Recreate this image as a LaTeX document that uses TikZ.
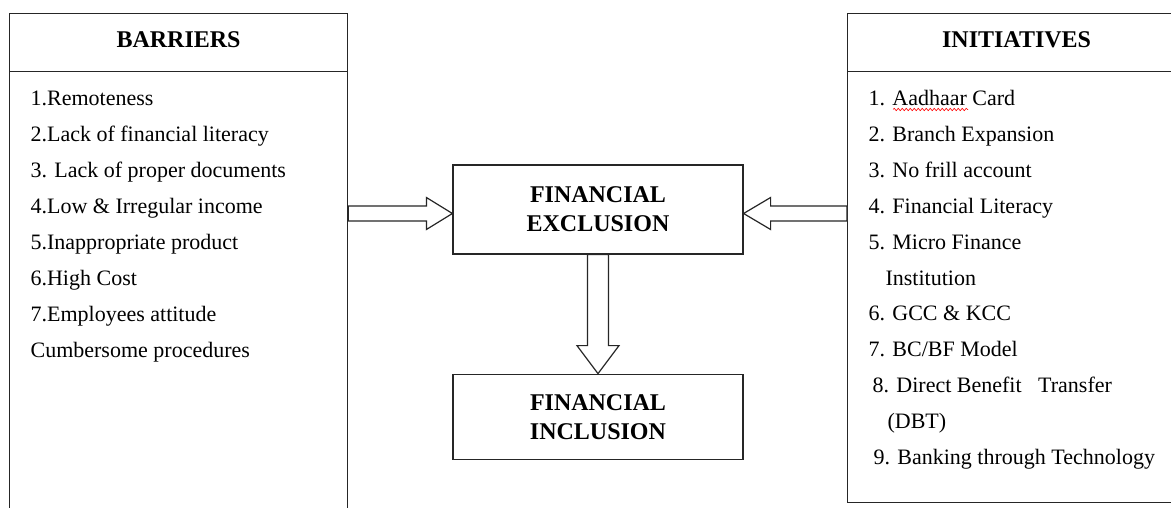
\documentclass[tikz,border=0pt]{standalone}
\usepackage{fontspec}
\setmainfont{Liberation Serif}
\usetikzlibrary{positioning,decorations.pathmorphing}

\begin{document}
\begin{tikzpicture}[x=1pt,y=1pt,line width=1.2pt,
    panel/.style={draw=black!85,minimum width=338pt,anchor=north west,inner sep=0pt},
    headbox/.style={draw=black!85,minimum width=338pt,minimum height=58pt,anchor=north,
        text depth=6pt,font=\fontsize{24}{29}\selectfont\bfseries},
    item/.style={anchor=base west,inner sep=0pt,font=\fontsize{22}{26}\selectfont},
    stage/.style={draw=black!85,minimum width=290pt,align=center,
        font=\fontsize{24}{29}\selectfont\bfseries},
    blockarrow/.style={draw=black!85,line join=miter,fill=white}]
    \clip (0,0) rectangle (1171,507);
    % side panels
    \node[panel,minimum height=540pt] (barriers) at (9,494) {};
    \node[headbox] (barhead) at (barriers.north) {BARRIERS};
    \node[panel,minimum height=489pt] (initiatives) at (847,494) {};
    \node[headbox] (inithead) at (initiatives.north) {INITIATIVES};
    \foreach \t [count=\i] in {1.Remoteness, 2.Lack of financial literacy,
        3. Lack of proper documents, 4.Low \& Irregular income,
        5.Inappropriate product, 6.High Cost, 7.Employees attitude,
        Cumbersome procedures}
        \node[item] (b\i) at (30,437.5-36*\i) {\t};
    \foreach \x/\t [count=\i] in {868/1. Aadhaar Card, 868/2. Branch Expansion,
        868/3. No frill account, 868/4. Financial Literacy, 868/5. Micro Finance,
        885/Institution, 868/6. GCC \& KCC, 868/{7. BC/BF Model},
        872/8. Direct Benefit\ \ \ Transfer, 887/(DBT), 873/9. Banking through Technology}
        \node[item] (i\i) at (\x,437.4-35.9*\i) {\t};
    \draw[red,line width=0.6pt,decorate,decoration={snake,amplitude=1.2pt,segment length=4pt}]
        ([xshift=25pt,yshift=-4pt]i1.base west) -- ++(75,0);
    % centre boxes
    \node[stage,minimum height=89pt] (exclusion) at (598,297.5) {FINANCIAL\\EXCLUSION};
    \node[stage,minimum height=85pt,below=119pt of exclusion] (inclusion) {FINANCIAL\\INCLUSION};
    % block arrows
    \coordinate (ltip) at ([yshift=-4pt]exclusion.west);
    \coordinate (lbase) at (barriers.east |- ltip);
    \draw[blockarrow] ([yshift=7.5pt]lbase) -- ([shift={(-26,7.5)}]ltip) -- ++(0,8.5)
        -- (ltip) -- ++(-26,-16) -- ++(0,8.5) -- ([yshift=-7.5pt]lbase) -- cycle;
    \coordinate (rtip) at ([yshift=-4pt]exclusion.east);
    \coordinate (rbase) at (initiatives.west |- rtip);
    \draw[blockarrow] ([yshift=7.5pt]rbase) -- ([shift={(27,7.5)}]rtip) -- ++(0,8.5)
        -- (rtip) -- ++(27,-16) -- ++(0,8.5) -- ([yshift=-7.5pt]rbase) -- cycle;
    \draw[blockarrow] ([xshift=-10.5pt]exclusion.south) -- ([shift={(-10.5,28)}]inclusion.north)
        -- ++(-10.5,0) -- (inclusion.north) -- ++(21,28) -- ++(-10.5,0)
        -- ([xshift=10.5pt]exclusion.south) -- cycle;
\end{tikzpicture}
\end{document}
